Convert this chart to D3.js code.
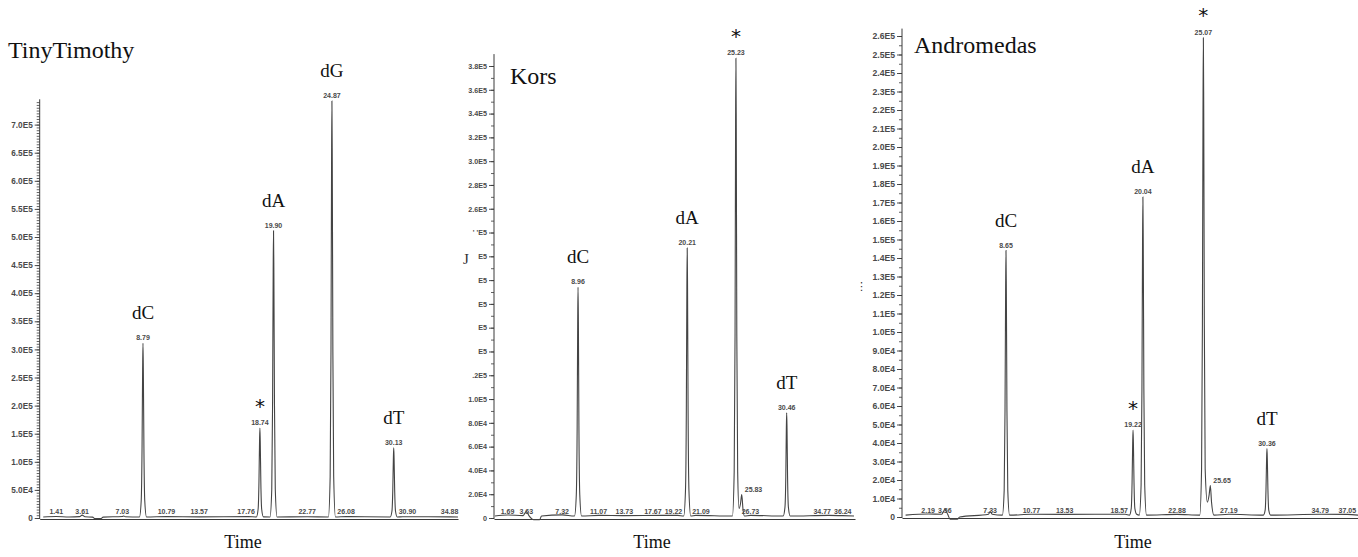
<!DOCTYPE html>
<html>
<head>
<meta charset="utf-8">
<script src="https://cdn.jsdelivr.net/npm/d3@7"></script>
<style>
  body { margin: 0; background: #fff; }
  svg { display: block; }
</style>
</head>
<body>
<svg id="chart" width="1358" height="557"></svg>
<script>
// ---- TinyTimothy: trace [time, abundance] ----
const ttTrace = [
  [0.3, 1800], [1.41, 2600], [2.5, 1800], [3.4, 2400], [3.61, 5200], [3.85, 2200], [4.5, 1500], [4.7, -1200],
  [5.2, -1200], [5.4, 1600], [7.03, 2600], [7.15, 3600], [7.3, 2200],
  [8.49, 1800], [8.64, 31000], [8.71, 124000], [8.76, 264000], [8.79, 311000], [8.82, 264000], [8.87, 124000], [8.94, 31000], [9.09, 1800],
  [10.79, 2400], [13.57, 2000], [17.76, 2400],
  [18.44, 1800], [18.59, 16000], [18.66, 64000], [18.71, 136000], [18.74, 160000], [18.77, 136000], [18.82, 64000], [18.89, 16000], [19.04, 2000],
  [19.6, 1800], [19.75, 51000], [19.82, 204000], [19.87, 434000], [19.9, 511000], [19.93, 434000], [19.98, 204000], [20.05, 51000], [20.2, 1800],
  [22.77, 2200],
  [24.57, 1800], [24.72, 74000], [24.79, 297000], [24.84, 631000], [24.87, 742000], [24.9, 631000], [24.95, 297000], [25.02, 74000], [25.17, 1800],
  [26.08, 2400],
  [29.83, 1800], [29.98, 12500], [30.05, 50000], [30.1, 106000], [30.13, 125000], [30.16, 106000], [30.21, 50000], [30.28, 12500], [30.43, 1800],
  [30.9, 2200], [34.88, 2000], [35.6, 1800]
];
const ttPeaks = [8.79, 18.74, 19.90, 24.87, 30.13];
const ttNames = ["dC", "*", "dA", "dG", "dT"];
const ttMinor = [1.41, 3.61, 7.03, 10.79, 13.57, 17.76, 22.77, 26.08, 30.90, 34.88];

// ---- Kors ----
const koTrace = [
  [0.4, 1700], [1.69, 2500], [3.3, 2000], [3.63, 5500], [3.9, 2000], [4.4, -1500], [5.0, -1500], [5.2, 1700], [7.32, 2600],
  [8.6, 1700], [8.78, 19400], [8.87, 77600], [8.925, 165000], [8.96, 194000], [8.995, 165000], [9.05, 77600], [9.14, 19400], [9.32, 1700],
  [11.07, 2200], [13.73, 2000], [17.67, 2200], [19.22, 2200],
  [19.85, 1700], [20.03, 22700], [20.12, 90800], [20.175, 193000], [20.21, 227000], [20.245, 193000], [20.3, 90800], [20.39, 22700], [20.57, 1700],
  [21.09, 2200],
  [24.87, 1700], [25.05, 38600], [25.14, 154600], [25.195, 328500], [25.23, 386500], [25.265, 328500], [25.32, 154600], [25.41, 38600],
  [25.55, 8000], [25.7, 12000], [25.83, 19700], [25.95, 8000], [26.1, 1700],
  [26.73, 2200],
  [30.1, 1700], [30.28, 8850], [30.37, 35400], [30.425, 75200], [30.46, 88500], [30.495, 75200], [30.55, 35400], [30.64, 8850], [30.82, 1700],
  [34.77, 2200], [36.24, 2000], [37.4, 1700]
];
const koPeaks = [8.96, 20.21, 25.23, 25.83, 30.46];
const koNames = ["dC", "dA", "*", "", "dT"];
const koMinor = [1.69, 3.63, 7.32, 11.07, 13.73, 17.67, 19.22, 21.09, 26.73, 34.77, 36.24];
const koTickText = ["0", "2.0E4", "4.0E4", "6.0E4", "8.0E4", "1.0E5", ".2E5", "E5", "E5", "E5", "E5", "E5", "' 'E5",
  "2.6E5", "2.8E5", "3.0E5", "3.2E5", "3.4E5", "3.6E5", "3.8E5"];

// ---- Andromedas ----
const anTrace = [
  [0.3, 1000], [2.19, 1600], [3.3, 1500], [3.56, 4000], [3.8, 1500], [4.0, -1200], [4.6, -1200], [4.8, 0], [7.2, 1500], [7.33, 3000], [7.5, 1500],
  [8.35, 1000], [8.5, 14400], [8.57, 57600], [8.62, 122000], [8.65, 144000], [8.68, 122000], [8.73, 57600], [8.8, 14400], [8.95, 1000],
  [10.77, 1500], [13.53, 1400], [18.57, 1500],
  [18.92, 1000], [19.07, 4700], [19.14, 18800], [19.19, 40000], [19.22, 47000], [19.25, 40000], [19.3, 18800], [19.37, 4700], [19.52, 1500],
  [19.74, 1000], [19.89, 17300], [19.96, 69200], [20.01, 147000], [20.04, 173000], [20.07, 147000], [20.12, 69200], [20.19, 17300], [20.34, 1000],
  [22.88, 1400],
  [24.77, 1000], [24.92, 25900], [24.99, 104000], [25.04, 220000], [25.07, 259000], [25.1, 220000], [25.15, 104000], [25.22, 25900],
  [25.4, 8000], [25.55, 12000], [25.65, 17000], [25.75, 8000], [25.95, 1000],
  [27.19, 1500],
  [30.06, 1000], [30.21, 3700], [30.28, 14800], [30.33, 31500], [30.36, 37000], [30.39, 31500], [30.44, 14800], [30.51, 3700], [30.66, 1000],
  [34.79, 1500], [37.05, 1400], [38.0, 1000]
];
const anPeaks = [8.65, 19.22, 20.04, 25.07, 25.65, 30.36];
const anNames = ["dC", "*", "dA", "*", "", "dT"];
const anMinor = [2.19, 3.56, 7.33, 10.77, 13.53, 18.57, 22.88, 27.19, 34.79, 37.05];

const panels = [
  { title: "TinyTimothy", titleX: 8, titleY: 58, trace: ttTrace, peaks: ttPeaks, names: ttNames, minor: ttMinor,
    t: [0, 35.6], px: [39.7, 458], y0: 518, yMax: 7.0e5, yMaxPx: 124.6, yTop: 7.45e5, major: 5e4, sub: 5e3,
    tickFont: 8.2, timeX: 243 },
  { title: "Kors", titleX: 510, titleY: 84, trace: koTrace, peaks: koPeaks, names: koNames, minor: koMinor, tickText: koTickText,
    t: [0.3, 37.5], px: [494, 855], y0: 518, yMax: 3.8e5, yMaxPx: 66, yTop: 3.9e5, major: 2e4, sub: 1e4,
    tickFont: 7.2, timeX: 652 },
  { title: "Andromedas", titleX: 914, titleY: 53, trace: anTrace, peaks: anPeaks, names: anNames, minor: anMinor,
    t: [0, 38.0], px: [902, 1358.8], y0: 517, yMax: 2.6e5, yMaxPx: 36, yTop: 2.64e5, major: 1e4, sub: 5e3,
    tickFont: 8.6, timeX: 1133 }
];

const svg = d3.select('#chart');
const serif = '"Liberation Serif", "Times New Roman", serif';
const sans = '"Liberation Sans", Arial, sans-serif';
const ink = '#3a3a3a';
const smallInk = '#4a4a4a';

const fmt = d => d === 0 ? "0" : d.toExponential(1).replace("e+", "E");

panels.forEach(p => {
  const x = d3.scaleLinear().domain(p.t).range(p.px);
  const y = d3.scaleLinear().domain([0, p.yMax]).range([p.y0, p.yMaxPx]);
  const g = svg.append('g');

  // y axis: minor ticks, major ticks, spine
  const minorAxis = d3.axisLeft(y)
    .tickValues(d3.range(0, p.yTop, p.sub))
    .tickSize(3).tickFormat('');
  g.append('g').attr('transform', `translate(${x(p.t[0])},0)`).call(minorAxis)
    .call(a => a.select('.domain').remove())
    .selectAll('line').attr('stroke', ink).attr('stroke-width', 0.8);

  const majors = d3.range(0, p.yMax + 1, p.major);
  const yAxis = d3.axisLeft(y)
    .tickValues(majors)
    .tickSize(5).tickPadding(2)
    .tickFormat((d, i) => p.tickText ? p.tickText[i] : fmt(d));
  const ya = g.append('g').attr('transform', `translate(${x(p.t[0])},0)`).call(yAxis);
  ya.select('.domain').remove();
  ya.selectAll('line').attr('stroke', ink).attr('stroke-width', 0.9);
  ya.selectAll('text').attr('fill', smallInk)
    .style('font-family', sans).style('font-weight', 'bold').style('font-size', p.tickFont + 'px');

  g.append('line')
    .attr('x1', x(p.t[0])).attr('x2', x(p.t[0]))
    .attr('y1', y(0) + 1).attr('y2', y(p.yTop))
    .attr('stroke', ink).attr('stroke-width', 1);

  // x axis (plain line)
  const xAxis = d3.axisBottom(x).tickValues([]).tickSizeOuter(0);
  g.append('g').attr('transform', `translate(0,${y(0) + 1})`).call(xAxis)
    .select('.domain').attr('stroke', ink).attr('stroke-width', 1.2);

  // trace
  const line = d3.line().x(d => x(d[0])).y(d => y(d[1])).curve(d3.curveMonotoneX);
  g.append('path').datum(p.trace)
    .attr('d', line).attr('fill', 'none')
    .attr('stroke', '#444').attr('stroke-width', 1.1);

  // peak annotations
  const top = rt => d3.max(p.trace.filter(d => Math.abs(d[0] - rt) < 0.02), d => d[1]);
  p.peaks.forEach((rt, i) => {
    const py = y(top(rt));
    g.append('text')
      .attr('x', x(rt) + (p.names[i] === "" ? 3 : 0)).attr('y', py - 3)
      .attr('text-anchor', p.names[i] === "" ? 'start' : 'middle')
      .attr('fill', smallInk).style('font-family', sans).style('font-weight', 'bold').style('font-size', '7px')
      .text(rt.toFixed(2));
    if (p.names[i] === "*") {
      g.append('text').attr('x', x(rt)).attr('y', py - 15.5)
        .attr('text-anchor', 'middle').attr('fill', '#111')
        .style('font-family', '"DejaVu Sans", sans-serif').style('font-size', '20px')
        .text('*');
    } else if (p.names[i]) {
      g.append('text').attr('x', x(rt)).attr('y', py - 24)
        .attr('text-anchor', 'middle').attr('fill', '#111')
        .style('font-family', serif).style('font-size', '19px')
        .text(p.names[i]);
    }
  });

  // small-peak labels along the baseline: step off the big peaks, then off each other
  const obstacles = p.peaks.filter((rt, i) => p.names[i] !== "").map(rt => x(rt));
  const labels = p.minor.map(rt => {
    const t = g.append('text')
      .attr('y', y(0) - 4.5).attr('text-anchor', 'middle')
      .attr('fill', smallInk).style('font-family', sans).style('font-weight', 'bold').style('font-size', '7px')
      .text(rt.toFixed(2));
    const w = t.node().getComputedTextLength();
    let cx = x(rt);
    obstacles.forEach(ox => {
      if (cx + w / 2 > ox - 5 && cx - w / 2 < ox + 5) {
        const toLeft = (cx + w / 2) - (ox - 5);
        const toRight = (ox + 5) - (cx - w / 2);
        cx = toLeft <= toRight ? cx - toLeft : cx + toRight;
      }
    });
    return { t, w, cx };
  });
  let limit = p.px[1] + 2;
  for (let i = labels.length - 1; i >= 0; i--) {
    const L = labels[i];
    if (L.cx + L.w / 2 > limit) L.cx = limit - L.w / 2;
    L.t.attr('x', L.cx);
    limit = L.cx - L.w / 2 - 3;
  }

  // title and axis title
  g.append('text').attr('x', p.titleX).attr('y', p.titleY)
    .attr('fill', '#111').style('font-family', serif).style('font-size', '24px')
    .text(p.title);
  g.append('text').attr('x', p.timeX).attr('y', 548).attr('text-anchor', 'middle')
    .attr('fill', '#111').style('font-family', serif).style('font-size', '18px')
    .text('Time');
});

// scan leftovers between panels
svg.append('text').attr('x', 463).attr('y', 264).attr('fill', '#333')
  .style('font-family', serif).style('font-size', '15px').text('J');
svg.append('text').attr('x', 856).attr('y', 290).attr('fill', '#333')
  .style('font-family', '"DejaVu Sans", sans-serif').style('font-size', '11px').text('⋮');
</script>
</body>
</html>
